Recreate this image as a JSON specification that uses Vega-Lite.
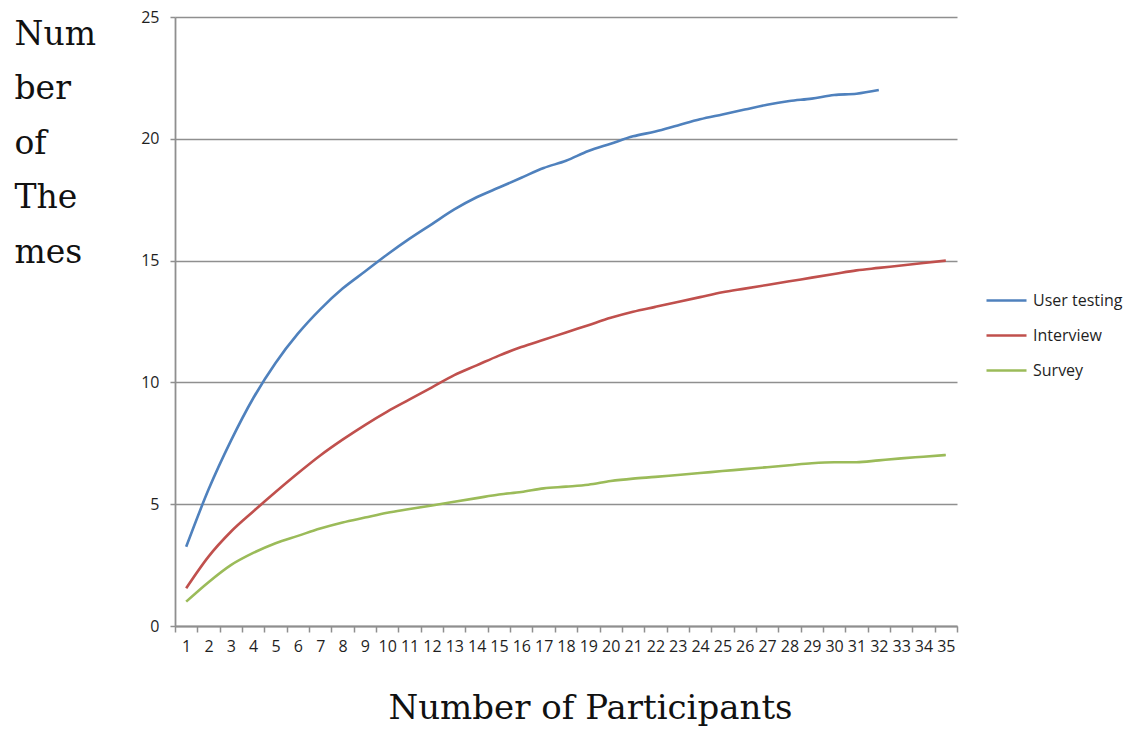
{
  "$schema": "https://vega.github.io/schema/vega-lite/v6.json",
  "width": 782,
  "height": 609,
  "autosize": {"type": "none"},
  "padding": {"left": 175, "top": 17, "right": 184, "bottom": 117},
  "background": "white",
  "config": {"view": {"stroke": null}},
  "data": {"values": [
    {"p": 1, "User testing": 3.25, "Interview": 1.55, "Survey": 1.0},
    {"p": 2, "User testing": 5.6, "Interview": 2.85, "Survey": 1.8},
    {"p": 3, "User testing": 7.6, "Interview": 3.87, "Survey": 2.5},
    {"p": 4, "User testing": 9.35, "Interview": 4.7, "Survey": 3.0},
    {"p": 5, "User testing": 10.8, "Interview": 5.5, "Survey": 3.4},
    {"p": 6, "User testing": 12.0, "Interview": 6.27, "Survey": 3.7},
    {"p": 7, "User testing": 13.0, "Interview": 7.0, "Survey": 4.0},
    {"p": 8, "User testing": 13.85, "Interview": 7.65, "Survey": 4.25},
    {"p": 9, "User testing": 14.55, "Interview": 8.25, "Survey": 4.45},
    {"p": 10, "User testing": 15.25, "Interview": 8.8, "Survey": 4.65},
    {"p": 11, "User testing": 15.9, "Interview": 9.3, "Survey": 4.8},
    {"p": 12, "User testing": 16.5, "Interview": 9.8, "Survey": 4.95},
    {"p": 13, "User testing": 17.1, "Interview": 10.3, "Survey": 5.1},
    {"p": 14, "User testing": 17.6, "Interview": 10.7, "Survey": 5.25},
    {"p": 15, "User testing": 18.0, "Interview": 11.1, "Survey": 5.4},
    {"p": 16, "User testing": 18.4, "Interview": 11.45, "Survey": 5.5},
    {"p": 17, "User testing": 18.8, "Interview": 11.75, "Survey": 5.65},
    {"p": 18, "User testing": 19.1, "Interview": 12.05, "Survey": 5.72},
    {"p": 19, "User testing": 19.5, "Interview": 12.35, "Survey": 5.8},
    {"p": 20, "User testing": 19.8, "Interview": 12.65, "Survey": 5.95},
    {"p": 21, "User testing": 20.1, "Interview": 12.9, "Survey": 6.05},
    {"p": 22, "User testing": 20.3, "Interview": 13.1, "Survey": 6.12},
    {"p": 23, "User testing": 20.55, "Interview": 13.3, "Survey": 6.2},
    {"p": 24, "User testing": 20.8, "Interview": 13.5, "Survey": 6.28},
    {"p": 25, "User testing": 21.0, "Interview": 13.7, "Survey": 6.36},
    {"p": 26, "User testing": 21.2, "Interview": 13.85, "Survey": 6.44},
    {"p": 27, "User testing": 21.4, "Interview": 14.0, "Survey": 6.52},
    {"p": 28, "User testing": 21.55, "Interview": 14.15, "Survey": 6.6},
    {"p": 29, "User testing": 21.65, "Interview": 14.3, "Survey": 6.68},
    {"p": 30, "User testing": 21.8, "Interview": 14.45, "Survey": 6.72},
    {"p": 31, "User testing": 21.85, "Interview": 14.6, "Survey": 6.72},
    {"p": 32, "User testing": 22.0, "Interview": 14.7, "Survey": 6.8},
    {"p": 33, "User testing": null, "Interview": 14.8, "Survey": 6.88},
    {"p": 34, "User testing": null, "Interview": 14.9, "Survey": 6.95},
    {"p": 35, "User testing": null, "Interview": 15.0, "Survey": 7.02}
  ]},
  "transform": [
    {"fold": ["User testing", "Interview", "Survey"], "as": ["series", "v"]}
  ],
  "mark": {"type": "line", "strokeWidth": 2.6, "interpolate": "monotone"},
  "encoding": {
    "x": {
      "field": "p", "type": "ordinal", "bandPosition": 0.5,
      "scale": {"type": "band", "paddingInner": 0, "paddingOuter": 0},
      "axis": {
        "title": "Number of Participants",
        "titleFont": "DejaVu Serif", "titleFontSize": 34, "titleFontWeight": "normal",
        "titleColor": "#111111",
        "titleX": 415, "titleY": 92, "titleAlign": "center", "titleBaseline": "alphabetic",
        "labelAngle": 0, "labelFont": "Open Sans", "labelFontSize": 16, "labelColor": "#1f1f1f",
        "labelPadding": 6, "labelBaseline": "top", "labelOverlap": false,
        "tickBand": "extent", "tickSize": 6, "tickColor": "#8f8f8f", "tickWidth": 1.5,
        "domainColor": "#8f8f8f", "domainWidth": 1.8, "grid": false
      }
    },
    "y": {
      "field": "v", "type": "quantitative",
      "scale": {"domain": [0, 25], "nice": false},
      "axis": {
        "values": [0, 5, 10, 15, 20, 25],
        "title": ["Num", "ber", "of", "The", "mes"],
        "titleFont": "DejaVu Serif", "titleFontSize": 33, "titleFontWeight": "normal",
        "titleColor": "#111111", "titleLineHeight": 54.5,
        "titleAngle": 0, "titleAlign": "left", "titleBaseline": "alphabetic",
        "titleX": -161, "titleY": 27,
        "labelFont": "Open Sans", "labelFontSize": 16, "labelColor": "#1f1f1f",
        "labelPadding": 11,
        "tickSize": 5, "tickColor": "#8f8f8f", "tickWidth": 1.5,
        "domainColor": "#8f8f8f", "domainWidth": 1.8,
        "grid": true, "gridColor": "#8f8f8f", "gridWidth": 1.6
      }
    },
    "color": {
      "field": "series", "type": "nominal",
      "scale": {"domain": ["User testing", "Interview", "Survey"], "range": ["#4f81bd", "#c0504d", "#9bbb59"]},
      "legend": {
        "title": null, "orient": "none", "legendX": 810, "legendY": 262,
        "padding": 0, "symbolType": "stroke", "symbolSize": 1600, "symbolStrokeWidth": 2.6,
        "labelFont": "Open Sans", "labelFontSize": 16, "labelColor": "#1f1f1f",
        "labelOffset": 5, "rowPadding": 5
      }
    }
  }
}
